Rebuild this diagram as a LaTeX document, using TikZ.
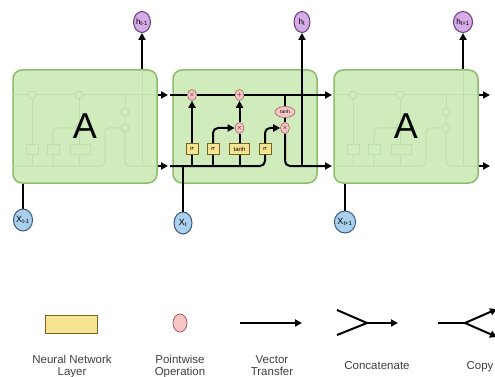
\documentclass[tikz,border=0pt]{standalone}
\usepackage{fontspec}
\setmainfont{Liberation Sans}
\usetikzlibrary{shapes.geometric,arrows.meta}

\definecolor{cellfill}{RGB}{208,236,188}
\definecolor{celledge}{RGB}{140,188,110}
\definecolor{ghost}{RGB}{190,222,170}
\definecolor{hfill}{RGB}{214,172,232}
\definecolor{hedge}{RGB}{100,60,120}
\definecolor{xfill}{RGB}{170,208,238}
\definecolor{xedge}{RGB}{60,90,120}
\definecolor{layerfill}{RGB}{246,228,146}
\definecolor{layeredge}{RGB}{120,100,30}
\definecolor{pwfill}{RGB}{246,198,198}
\definecolor{pwedge}{RGB}{170,90,90}

\tikzset{
  cell/.style={draw=celledge, fill=cellfill, line width=1.5pt, rounded corners=9pt, minimum width=144pt, minimum height=113pt},
  bigA/.style={inner sep=0pt, font=\fontsize{36}{36}\selectfont},
  hnode/.style={ellipse, draw=hedge, fill=hfill, line width=1pt, minimum width=16pt, minimum height=21pt, inner sep=0pt, font=\fontsize{8}{8}\selectfont},
  xnode/.style={ellipse, draw=xedge, fill=xfill, line width=1pt, minimum width=18pt, minimum height=22pt, inner sep=0pt, font=\fontsize{9}{9}\selectfont},
  layer/.style={draw=layeredge, fill=layerfill, line width=0.8pt, minimum width=12pt, minimum height=11pt, inner sep=0pt, font=\fontsize{7}{7}\selectfont},
  pw/.style={ellipse, draw=pwedge, fill=pwfill, line width=0.6pt, minimum width=9pt, minimum height=11pt, inner sep=0pt, font=\fontsize{6}{6}\selectfont},
  wire/.style={line width=2pt},
  arr/.style={wire, -{Triangle[length=7pt,width=7pt]}},
  legend/.style={align=center, anchor=north, text=black!75, font=\fontsize{11.5}{12}\selectfont},
}

\begin{document}
\begin{tikzpicture}[x=1pt,y=-1pt]
\useasboundingbox (0,0) rectangle (495,377);

% the three cells
\node[cell] (A1) at (85,126.5) {};
\node[cell] (A2) at (245,126.5) {};
\node[cell] (A3) at (406,126.5) {};

% faint insides of the outer cells
\foreach \dx in {-160,161}{
  \begin{scope}[xshift=\dx pt, draw=ghost, line width=1pt]
    \draw (173,95) -- (317,95);
    \draw[rounded corners=4pt] (173,166) -- (265,166) -- (265,149);
    \draw (192,166) -- (192,95);
    \draw[rounded corners=4pt] (213,166) -- (213,128) -- (239,128);
    \draw (239,166) -- (239,95);
    \draw[rounded corners=4pt] (265,149) -- (265,128) -- (285,128);
    \draw (285,95) -- (285,128);
    \draw[rounded corners=4pt] (285,128) -- (285,166) -- (317,166);
    \draw (302,166) -- (302,70);
    \draw[fill=cellfill] (192,95) circle (4) (239,95) circle (4) (239,128) circle (4) (285,128) circle (4) (285,112) circle (4);
    \draw[fill=cellfill] (186,144) rectangle (198,154) (207,144) rectangle (219,154) (230,144) rectangle (250,154);
  \end{scope}
}

\node[bigA] (a1) at (A1) {A};
\node[bigA] (a3) at (A3) {A};

% outputs and inputs
\node[hnode] (h1) at (142,22) {h\textsubscript{t-1}};
\node[hnode] (h2) at (302,22) {h\textsubscript{t}};
\node[hnode] (h3) at (463,22) {h\textsubscript{t+1}};
\node[xnode] (x1) at (23,220) {X\textsubscript{t-1}};
\node[xnode] (x2) at (183,223) {X\textsubscript{t}};
\node[xnode] (x3) at (345,222) {X\textsubscript{t+1}};

\coordinate (c1) at (168,95);
\coordinate (d1) at (168,166);
\coordinate (cin) at (170,95);
\coordinate (hin) at (170,166);
\coordinate (cout) at (332,95);
\coordinate (hout) at (332,166);
\coordinate (c3) at (490,95);
\coordinate (d3) at (490,166);

\draw[arr] (A1.east |- c1) -- (c1);
\draw[arr] (A1.east |- d1) -- (d1);
\draw[arr] (A3.east |- c3) -- (c3);
\draw[arr] (A3.east |- d3) -- (d3);
\draw[arr] (A1.north -| h1) -- (h1);
\draw[arr] (A3.north -| h3) -- (h3);
\draw[wire] (x1) -- (x1 |- A1.south);
\draw[wire] (x3) -- (x3 |- A3.south);

% gates of the middle cell
\node[layer] (s1) at (192,149) {$\sigma$};
\node[layer] (s2) at (213,149) {$\sigma$};
\node[layer, minimum width=20pt, font=\fontsize{6}{6}\selectfont] (t1) at (239.5,149) {tanh};
\node[layer] (s3) at (265,149) {$\sigma$};

\node[pw] (f) at (192,95) {$\times$};
\node[pw] (p) at (239.5,95) {$+$};
\node[pw] (i) at (239.5,128) {$\times$};
\node[pw] (o) at (285,128) {$\times$};
\node[pw, minimum width=20pt, font=\fontsize{5}{5}\selectfont] (th) at (285,112) {tanh};

\draw[wire] (cin) -- (f);
\draw[wire] (f) -- (p);
\draw[arr] (p) -- (cout);
\draw[wire, rounded corners=5pt] (hin) -- (hin -| s3) -- (s3);
\draw[wire] (x2) -- (x2 |- hin);
\draw[wire] (s1 |- hin) -- (s1);
\draw[wire] (s2 |- hin) -- (s2);
\draw[wire] (t1 |- hin) -- (t1);
\draw[arr] (s1) -- (f);
\draw[arr, rounded corners=5pt] (s2) |- (i);
\draw[wire] (t1) -- (i);
\draw[arr] (i) -- (p);
\draw[arr, rounded corners=5pt] (s3) |- (o);
\draw[wire] (p -| th) -- (th);
\draw[wire] (th) -- (o);
\draw[arr, rounded corners=5pt] (o) |- (hout);
\draw[arr] (hout -| h2) -- (h2);

% legend
\node[layer, minimum width=52pt, minimum height=18pt] (nn) at (71,324) {};
\node[pw, minimum width=14pt, minimum height=18pt, line width=0.8pt] (pw0) at (180,323) {};
\coordinate (v0) at (240,323);
\coordinate (v1) at (302,323);
\draw[arr] (v0) -- (v1);
\coordinate (k0) at (337,310);
\coordinate (k1) at (337,335);
\coordinate (k2) at (367,323);
\coordinate (k3) at (398,323);
\draw[wire] (k0) -- (k2);
\draw[wire] (k1) -- (k2);
\draw[arr] (k2) -- (k3);
\coordinate (y0) at (438,323);
\coordinate (y1) at (465,323);
\coordinate (y2) at (497,309);
\coordinate (y3) at (497,337);
\draw[wire] (y0) -- (y1);
\draw[arr] (y1) -- (y2);
\draw[arr] (y1) -- (y3);

\node[legend] (l1) at (72,352) {Neural Network\\Layer};
\node[legend] (l2) at (180,352) {Pointwise\\Operation};
\node[legend] (l3) at (272,352) {Vector\\Transfer};
\node[legend] (l4) at (377,358) {Concatenate};
\node[legend] (l5) at (480,358) {Copy};
\end{tikzpicture}
\end{document}
